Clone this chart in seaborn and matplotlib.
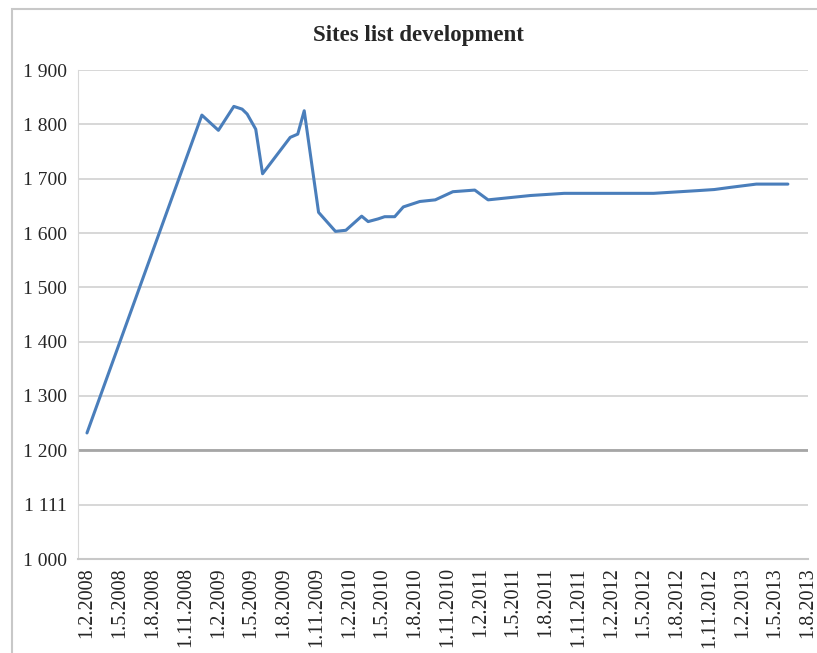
import matplotlib
matplotlib.use("Agg")
import matplotlib.pyplot as plt
import matplotlib.dates as mdates
import seaborn as sns
import pandas as pd

dates = ["2008-02-01", "2008-12-17", "2009-02-01", "2009-03-16", "2009-04-08",
         "2009-04-22", "2009-05-16", "2009-06-04", "2009-08-20", "2009-09-10",
         "2009-09-28", "2009-11-07", "2009-12-24", "2010-01-22", "2010-03-07",
         "2010-03-25", "2010-04-22", "2010-05-10", "2010-06-07", "2010-07-01",
         "2010-08-16", "2010-09-28", "2010-11-16", "2011-01-16", "2011-02-22",
         "2011-06-20", "2011-09-22", "2012-05-28", "2012-09-28", "2012-11-13",
         "2012-12-28", "2013-03-10", "2013-06-06"]
sites = [1232, 1817, 1789, 1833, 1828,
         1819, 1791, 1709, 1776, 1782,
         1825, 1638, 1603, 1605, 1631,
         1621, 1626, 1630, 1630, 1648,
         1658, 1661, 1676, 1679, 1661,
         1669, 1673, 1673, 1678, 1680,
         1684, 1690, 1690]

y_ticks = [1000, 1100, 1200, 1300, 1400, 1500, 1600, 1700, 1800, 1900]
y_labels = ["1 000", "1 111", "1 200", "1 300", "1 400", "1 500",
            "1 600", "1 700", "1 800", "1 900"]
x_tick_dates = pd.date_range("2008-02-01", "2013-08-01", freq="3MS")
x_labels = [f"{d.day}.{d.month}.{d.year}" for d in x_tick_dates]

title = "Sites list development"

sns.set_style("white")
plt.rcParams["font.family"] = ["Liberation Serif", "DejaVu Serif"]

df = pd.DataFrame({"date": pd.to_datetime(dates), "sites": sites})

fig = plt.figure(figsize=(8.17, 6.53), dpi=100)
W, H = 817, 653
left, right, top, bottom = 78, 808, 70, 559
ax = fig.add_axes([left / W, 1 - bottom / H, (right - left) / W, (bottom - top) / H])

# outer chart border
fig.add_artist(plt.Rectangle((12 / W, -0.1), 1.2, (H - 9) / H + 0.1,
                             transform=fig.transFigure, fill=False,
                             edgecolor="#c8c8c8", lw=1.5))

sns.lineplot(data=df, x="date", y="sites", ax=ax, color="#4a7ebb", lw=2.2, zorder=3)

ax.set_ylim(1000, 1900)
ax.set_xlim(pd.Timestamp("2008-01-07"), pd.Timestamp("2013-08-01"))
ax.set_yticks(y_ticks)
ax.set_yticklabels(y_labels, fontsize=14)
ax.set_xticks(x_tick_dates)
ax.set_xticklabels(x_labels, rotation=90, fontsize=14.5)
ax.tick_params(axis="both", length=0)
ax.tick_params(axis="y", pad=8)
ax.tick_params(axis="x", pad=6)

ax.yaxis.grid(True, color="#d4d4d4", lw=1.3, zorder=0)
ax.xaxis.grid(False)
ax.axhline(1200, color="#a6a6a6", lw=2.0, zorder=1)
for s in ["top", "right"]:
    ax.spines[s].set_visible(False)
ax.spines["left"].set_color("#d8d8d8")
ax.spines["bottom"].set_color("#c8c8c8")
ax.spines["bottom"].set_linewidth(1.5)
ax.set_xlabel("")
ax.set_ylabel("")

fig.text(418 / W, 1 - 35 / H, title, ha="center", va="center",
         fontsize=16.5, fontweight="bold")

fig.savefig("out.png", dpi=100)
